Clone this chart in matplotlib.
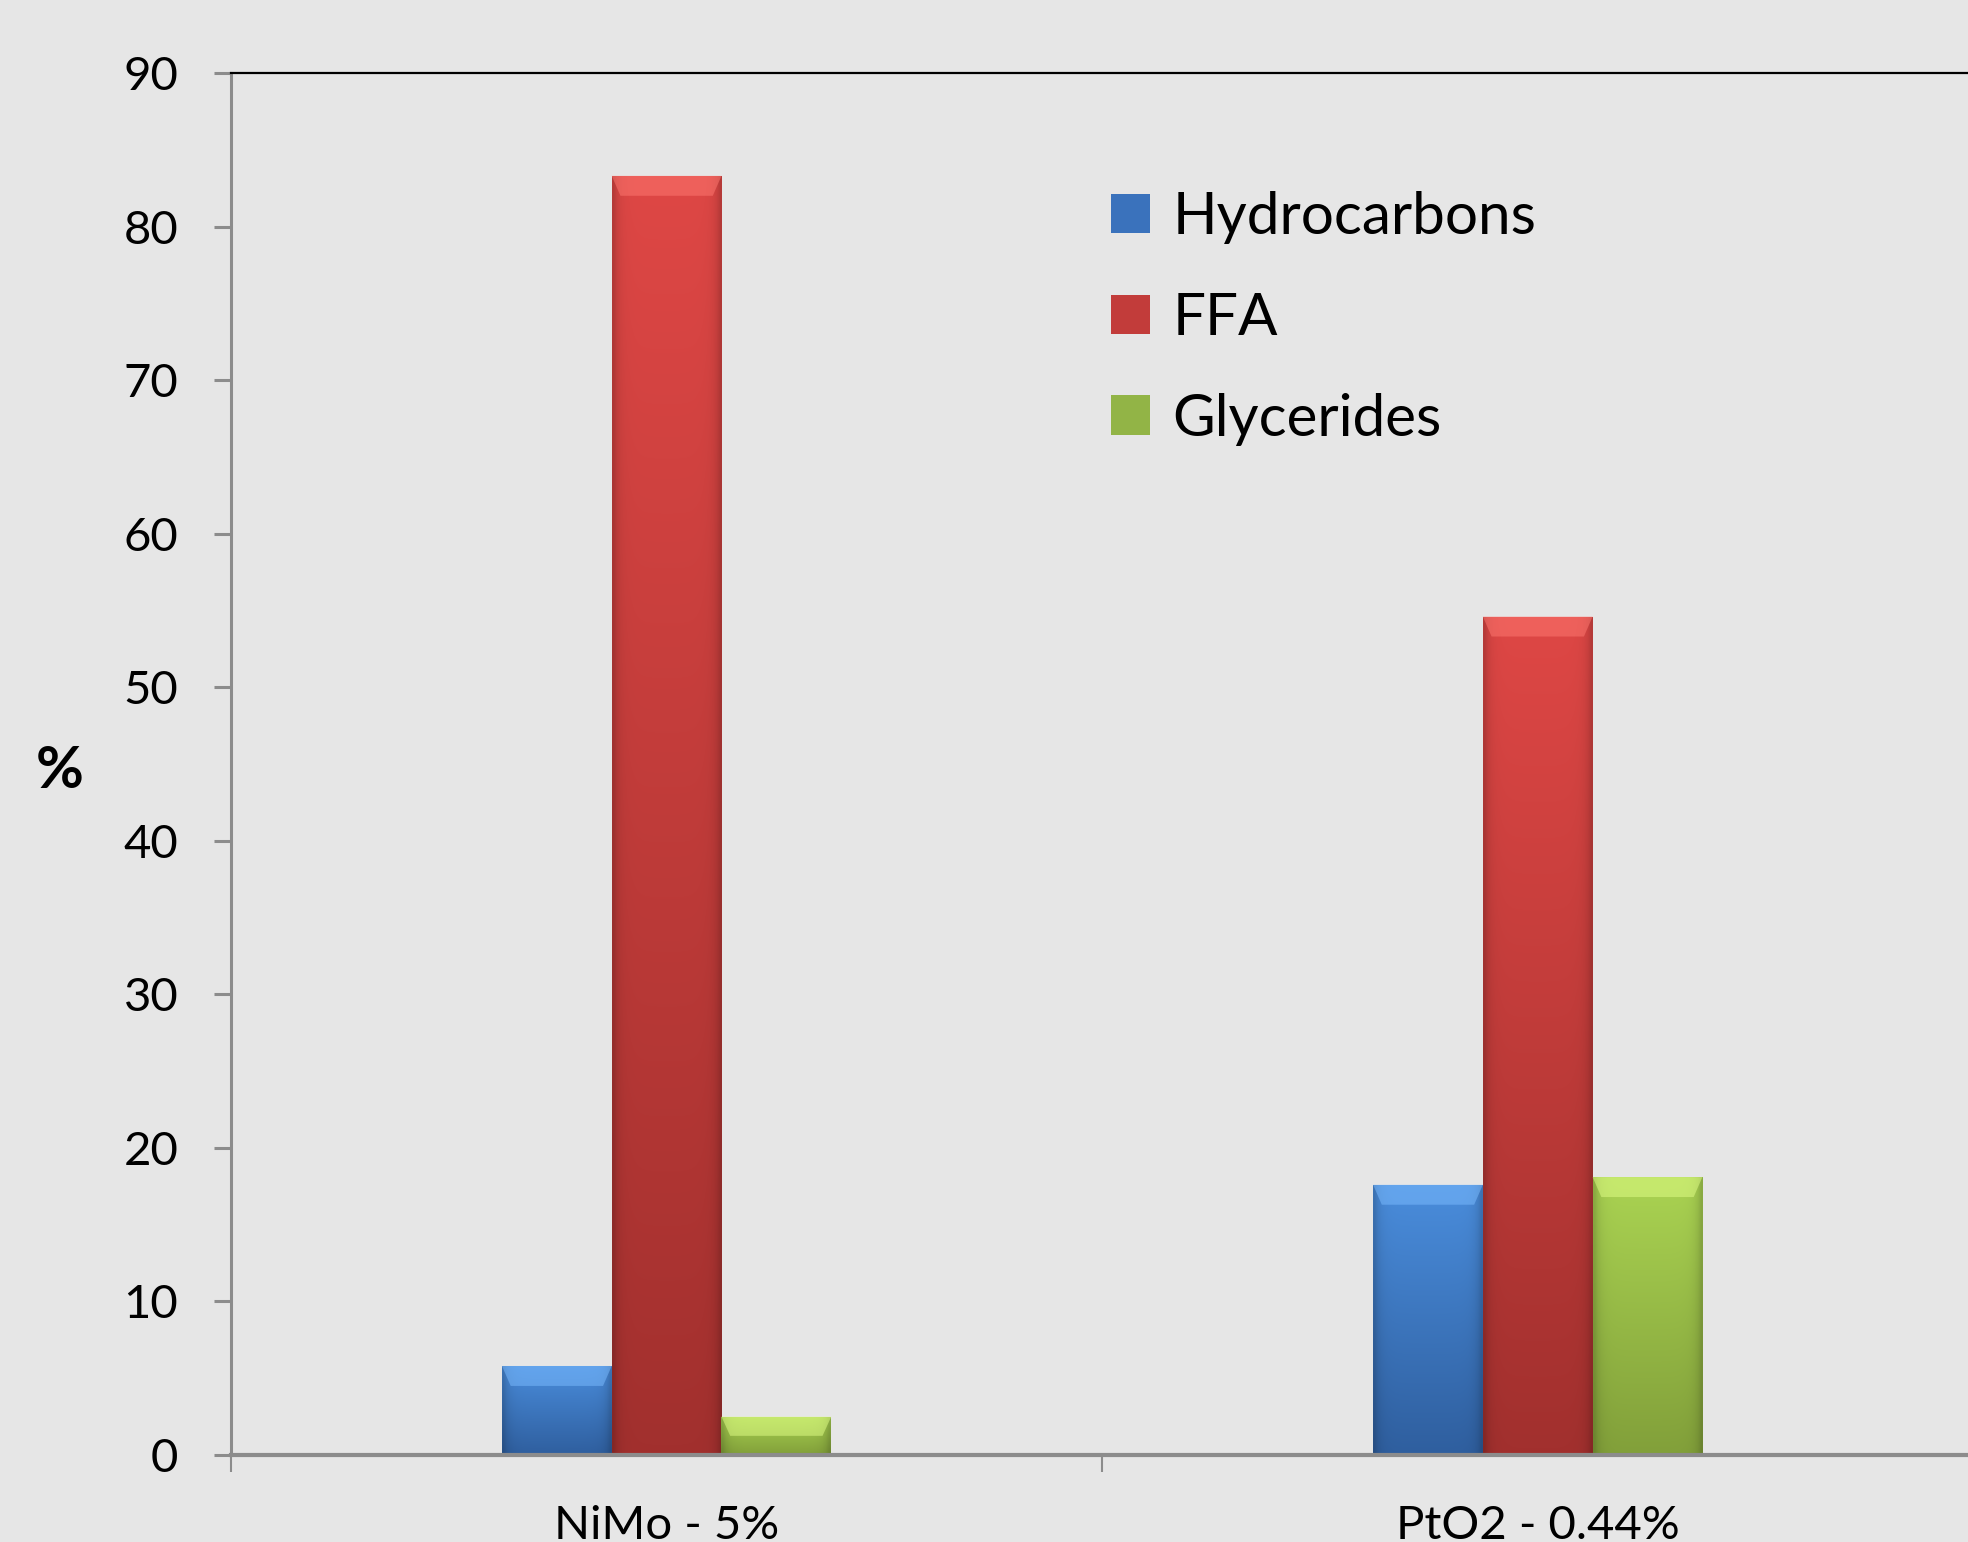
import numpy as np
import matplotlib
matplotlib.use("Agg")
import matplotlib.pyplot as plt
from matplotlib.patches import Polygon
from matplotlib.colors import to_rgb

# -----------------------------
# Data
# -----------------------------
categories = ["NiMo - 5%", "PtO2 - 0.44%"]
series_names = ["Hydrocarbons", "FFA", "Glycerides"]
hydrocarbons = [5.8, 17.6]
ffa = [83.3, 54.6]
glycerides = [2.5, 18.1]
y_ticks = [0, 10, 20, 30, 40, 50, 60, 70, 80, 90]

# top colour / bottom colour for each series
top_colors = ["#4a8ddc", "#de4745", "#aad352"]
bottom_colors = ["#2f5f9f", "#a2302e", "#82a03a"]
bevel_colors = ["#7cbcff", "#ff7a72", "#e2ff88"]
legend_colors = ["#3a72bc", "#c23c3a", "#92b446"]

BG = "#e6e6e6"
plt.rcParams["font.family"] = ["Lato", "DejaVu Sans"]

fig = plt.figure(figsize=(19.68, 15.42), dpi=100, facecolor=BG)
ax = fig.add_axes([0.1174, 0.0564, 0.8853, 0.8963])
ax.set_facecolor(BG)

x = np.arange(len(categories))
width = 0.126
series = [hydrocarbons, ffa, glycerides]

ax.set_xlim(-0.5, 1.5)
ax.set_ylim(0, 90)

for i, vals in enumerate(series):
    offs = (i - 1) * width
    bars = ax.bar(x + offs, vals, width, color=legend_colors[i], linewidth=0,
                  label=series_names[i], zorder=2)
    c_top = np.array(to_rgb(top_colors[i]))
    c_bot = np.array(to_rgb(bottom_colors[i]))
    for b in bars:
        x0, w, h = b.get_x(), b.get_width(), b.get_height()
        # vertical gradient with darker side edges
        ny, nx = 64, 32
        t = np.linspace(0, 1, ny)[:, None]  # 0 top -> 1 bottom
        grad = c_top[None, None, :] * (1 - t[..., None]) + c_bot[None, None, :] * t[..., None]
        u = np.linspace(0, 1, nx)
        edge = 1 - 0.18 * (np.exp(-u / 0.05) + np.exp(-(1 - u) / 0.05))
        img = np.clip(grad * edge[None, :, None], 0, 1)
        im = ax.imshow(img, extent=(x0, x0 + w, 0, h), aspect="auto",
                       origin="upper", zorder=2.1, interpolation="bilinear")
        im.set_clip_path(b)
        # top bevel highlight
        bh = min(1.3, h * 0.5)
        ins = 0.01
        bev = Polygon([(x0, h), (x0 + w, h), (x0 + w - ins, h - bh), (x0 + ins, h - bh)],
                      closed=True, facecolor=bevel_colors[i], alpha=0.5,
                      linewidth=0, zorder=2.2)
        ax.add_patch(bev)

ax.set_xlim(-0.5, 1.5)
ax.set_ylim(0, 90)

# axes styling
ax.spines["left"].set_color("#8c8c8c")
ax.spines["left"].set_linewidth(2.2)
ax.spines["bottom"].set_color("#8c8c8c")
ax.spines["bottom"].set_linewidth(3)
ax.spines["bottom"].set_zorder(3)
ax.spines["top"].set_color("black")
ax.spines["top"].set_linewidth(1.6)
ax.spines["right"].set_visible(False)

ax.set_yticks(y_ticks)
ax.tick_params(axis="y", direction="out", length=12, width=2.2, color="#8c8c8c",
               labelsize=34, pad=26)

ax.set_xticks([-0.5, 0.5, 1.5])
ax.set_xticklabels([])
ax.set_xticks(x, minor=True)
ax.set_xticklabels(categories, minor=True)
ax.tick_params(axis="x", which="major", direction="out", length=12, width=1.5,
               color="#8c8c8c")
ax.tick_params(axis="x", which="minor", length=0, labelsize=34, pad=36)

fig.text(0.0305, 1 - 772 / 1542, "%", fontsize=42, fontweight="bold",
         ha="center", va="center")

ax.legend(loc="upper left", bbox_to_anchor=(1111 / 1968, 1 - 191 / 1542),
          bbox_transform=fig.transFigure, frameon=False, fontsize=42,
          handlelength=0.67, handleheight=0.67, handletextpad=0.38,
          labelspacing=0.82, borderpad=0, borderaxespad=0)

fig.savefig("out.png", dpi=100, facecolor=BG)
